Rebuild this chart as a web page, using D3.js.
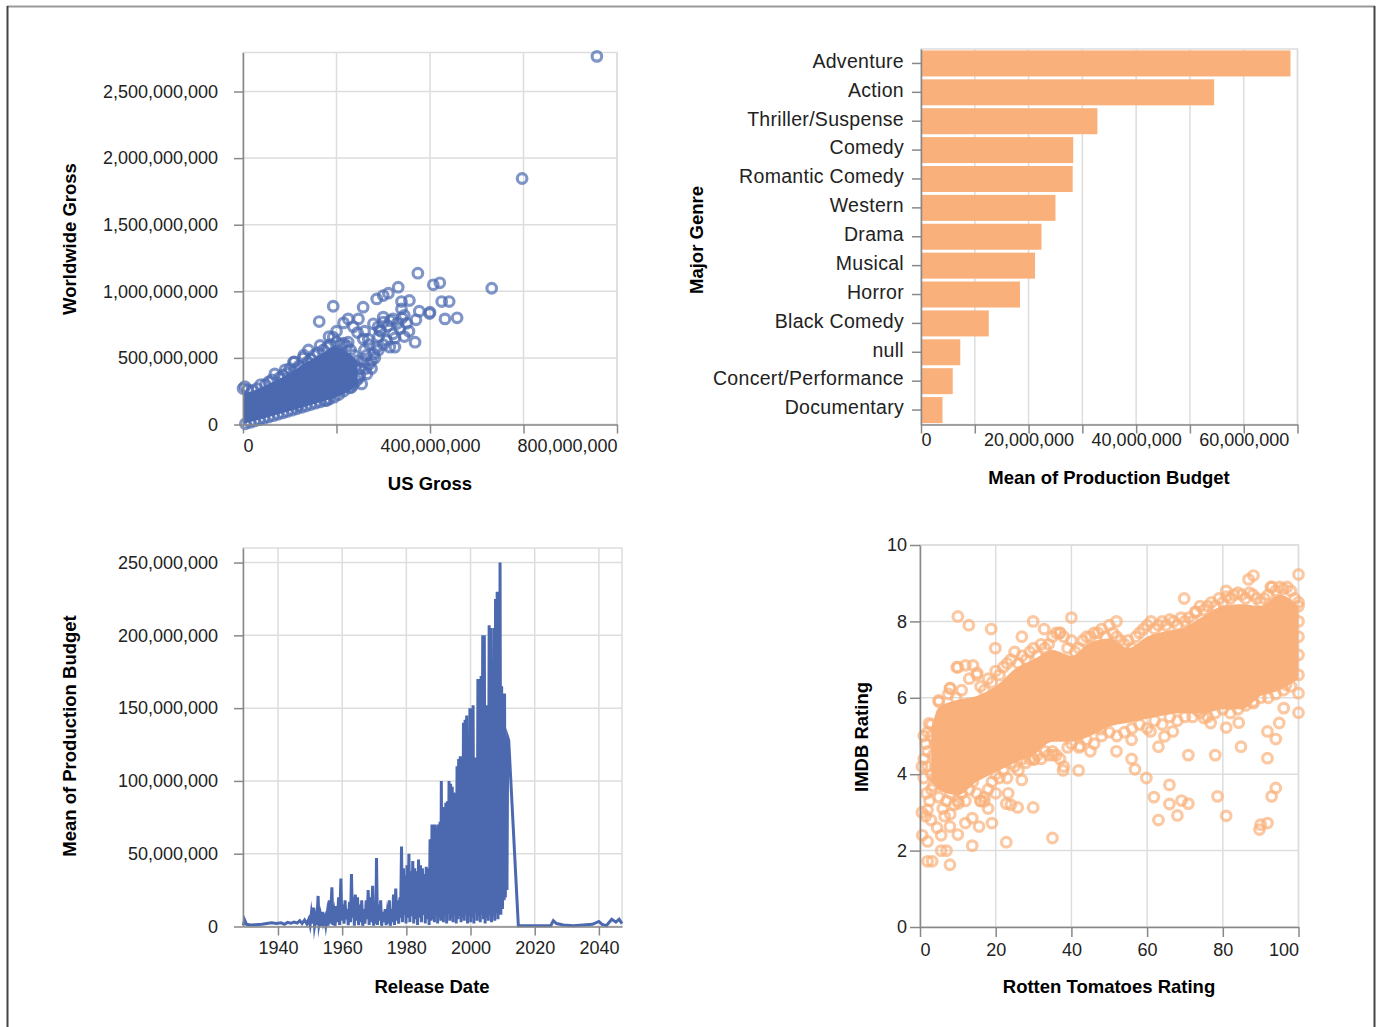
<!DOCTYPE html>
<html>
<head>
<meta charset="utf-8">
<script src="https://cdn.jsdelivr.net/npm/d3@7"></script>
<style>
  body { margin: 0; background: #fff; }
  text { font-family: "Liberation Sans", Arial, sans-serif; }
</style>
</head>
<body>
<svg id="dash" width="1377" height="1027"></svg>
<script>
// ---- data (gross / budget values in millions) ----

// dense core of the US vs worldwide cloud: [usGross, worldLow, worldHigh]
const grossCore = [[0,5,235],[15,18,245],[40,42,280],[70,72,330],[100,102,385],[125,127,445],
  [150,152,495],[175,178,545],[195,200,585],[215,228,560],[235,270,510],[245,300,470]]
// individual films: [usGross, worldwideGross]
const grossPoints = [
  [5,5],[15,16],[25,26],[35,36],[45,46],[55,57],[65,66],[75,77],[85,87],[95,97],[105,108],[115,118],
  [125,128],[135,139],[145,150],[155,160],[165,170],[175,180],[185,192],[195,205],[205,225],[215,250],[228,275],[236,300],
  [0,270],[4,285],[10,262],[20,255],[30,270],[38,300],[48,300],[55,320],[62,335],[68,380],[78,350],[85,370],[95,385],
  [108,468],[115,420],[120,440],[129,500],[138,470],[145,490],[152,520],[160,540],[165,593],[172,560],[180,580],[186,600],
  [193,655],[200,620],[210,600],[215,610],[222,590],[230,560],[238,520],[245,480],
  [250,368],[254,305],[232,280],[243,330],[204,293],[186,230],[179,180],[118,143],[257,643],[225,618],[264,518],[275,480],
  [280,531],[286,581],[307,631],[314,581],[325,581],[321,681],[293,708],[289,733],[279,756],[300,768],[315,780],[321,793],
  [300,806],[247,793],[225,793],[236,735],[215,763],[163,773],[193,888],[257,881],[286,943],[300,968],[311,986],[332,1031],
  [339,923],[339,868],[356,931],[368,618],[370,786],[377,851],[399,833],[400,843],[425,923],[441,923],[432,793],[458,801],
  [374,1136],[407,1049],[421,1064],[532,1023],[597,1847],[757,2764],
  [268,640],[290,660],[260,700],[245,690],[200,700],[184,660],[140,560],[130,520],[110,470],[100,420],[90,410],[260,560],
  [270,600],[295,700],[310,740],[330,760],[340,800],[345,820],[350,760],[355,700],[335,720],[325,650],[345,660],
  [262,420],[270,455],[258,470],[250,420],[240,440],[265,380],[248,350],[275,420],[282,500],[290,560],[300,600]
]
const grossXTicks = [0,200,400,600,800]
const grossXLabels = [0,400,800]
const grossYTicks = [0,500,1000,1500,2000,2500]

// mean production budget by major genre
const genres = ["Adventure","Action","Thriller/Suspense","Comedy","Romantic Comedy","Western","Drama",
  "Musical","Horror","Black Comedy","null","Concert/Performance","Documentary"]
const genreBudgets = [68.7,54.5,32.8,28.3,28.2,25.0,22.4,21.2,18.4,12.6,7.3,5.9,4.0]
const genreTicks = [0,10,20,30,40,50,60,70]
const genreLabels = [0,20,40,60]

// mean production budget by release date: [decimal year, budget]
const budgetByDate = [
  [1929.2,1],[1929.6,4.5],[1930.2,1.5],[1931.5,1],[1933,1.2],[1935,1.5],[1936.5,2],[1938,2.5],[1939.5,2],[1941,2.5],
  [1942,1.5],[1943,2.8],[1944,2.2],[1945,3],[1946,2.4],[1946.8,4],[1947.5,2],[1948.3,4.5],[1949,1.8],[1949.6,5],
  [1950.0,1],[1950.4,9],[1950.8,2],[1951.1,13],[1951.4,0.5],[1951.8,6],[1952.1,1],[1952.5,21],[1952.8,2],[1953.2,7],
  [1953.5,0.5],[1953.9,10],[1954.2,3],[1954.6,6],[1954.9,1],[1955.3,8],[1955.6,0.5],[1956.0,18],[1956.3,2],[1956.8,27],
  [1957.1,1],[1957.5,8],[1957.8,0.5],[1958.2,14],[1958.5,3],[1958.9,20],[1959.2,1],[1959.6,33],[1959.9,4],[1960.3,15],
  [1960.6,2],[1960.9,18],[1961.2,5],[1961.6,12],[1961.9,1],[1962.3,17],[1962.6,3],[1962.9,36],[1963.2,6],[1963.5,20],
  [1963.8,0.5],[1964.1,22],[1964.4,4],[1964.8,20],[1965.1,1],[1965.5,15],[1965.8,3],[1966.1,18],[1966.4,0.5],[1966.8,12],
  [1967.1,2],[1967.5,18],[1967.8,5],[1968.1,25],[1968.4,1],[1968.8,20],[1969.1,3],[1969.5,28],[1969.8,0.5],[1970.2,16],
  [1970.5,2],[1970.7,47],[1971.0,1],[1971.3,15],[1971.6,4],[1972.0,18],[1972.3,0.5],[1972.7,10],[1973.0,3],[1973.4,12],
  [1973.7,1],[1974.0,8],[1974.3,2],[1974.7,18],[1975.0,0.5],[1975.4,12],[1975.7,3],[1976.0,22],[1976.3,1],[1976.7,26],
  [1977.0,4],[1977.3,18],[1977.6,2],[1978.0,20],[1978.2,6],[1978.5,55],[1978.8,3],[1979.1,40],[1979.3,8],[1979.6,35],
  [1979.9,2],[1980.2,42],[1980.5,6],[1980.8,50],[1981.1,3],[1981.4,38],[1981.7,7],[1982.0,45],[1982.3,2],[1982.6,40],
  [1982.9,5],[1983.2,38],[1983.5,1],[1983.8,46],[1984.1,6],[1984.4,42],[1984.7,3],[1985.0,40],[1985.3,8],[1985.6,36],
  [1985.9,2],[1986.2,41],[1986.5,5],[1986.8,40],[1987.1,1],[1987.4,60],[1987.7,4],
  [1988.0,70],[1988.25,5],[1988.5,70],[1988.75,3],[1989.0,70],[1989.25,8],[1989.5,68],[1989.75,2],[1990.0,70],[1990.25,6],
  [1990.5,72],[1990.75,4],[1990.9,100],[1991.1,10],[1991.3,80],[1991.55,3],[1991.8,82],[1992.05,7],[1992.3,85],[1992.55,2],
  [1992.8,86],[1993.05,9],[1993.3,100],[1993.55,4],[1993.8,98],[1994.05,6],[1994.3,96],[1994.55,3],[1994.8,92],[1995.05,8],
  [1995.3,90],[1995.55,2],[1995.8,110],[1996.05,5],[1996.3,115],[1996.55,7],[1996.8,117],[1997.05,3],[1997.3,116],[1997.55,6],
  [1997.8,140],[1998.05,4],[1998.3,142],[1998.55,8],[1998.8,145],[1999.05,2],[1999.3,115],[1999.55,7],[1999.8,150],[2000.05,3],
  [2000.3,150],[2000.55,6],[2000.8,152],[2001.05,2],[2001.3,115],[2001.55,9],[2001.8,116],[2002.05,4],[2002.3,170],[2002.55,7],
  [2002.8,170],[2003.05,3],[2003.3,172],[2003.55,8],[2003.8,200],[2004.05,5],[2004.3,200],[2004.55,2],[2004.8,150],[2005.05,6],
  [2005.3,152],[2005.55,4],[2005.8,207],[2006.05,8],[2006.3,205],[2006.55,3],[2006.8,152],[2007.05,7],[2007.3,205],[2007.55,4],
  [2007.8,225],[2008.05,9],[2008.3,230],[2008.55,5],[2008.8,230],[2009.0,10],[2009.2,250],[2009.45,8],[2009.7,165],[2009.95,12],
  [2010.2,160],[2010.45,18],[2010.6,160],[2010.85,20],[2011.1,130],[2011.35,25],[2011.6,130],[2011.9,128],
  [2014.9,0.5],[2020,0.5],[2025,0.5],[2025.8,4],[2026.8,2],[2029,1],[2032,0.5],[2035,1],[2038,1.5],[2040,3.5],
  [2041,1.5],[2042.3,0.5],[2044,5],[2045.3,3],[2046.3,5],[2047.2,2]
]
const yearTicks = [1940,1960,1980,2000,2020,2040]
const budgetTicks = [0,50,100,150,200,250]

// dense core of the ratings cloud: [rottenTomatoes, imdbLow, imdbHigh]
const ratingCore = [[3,3.8,5.2],[5,3.6,5.75],[10,3.45,5.95],[15,3.8,6.05],[20,4.05,6.3],[25,4.3,6.75],[30,4.5,7.0],
  [35,4.85,7.25],[40,4.85,7.1],[45,5.0,7.45],[50,5.25,7.55],[55,5.35,7.3],[60,5.45,7.6],[65,5.55,7.75],[70,5.6,7.85],
  [75,5.6,8.15],[80,5.7,8.4],[85,5.7,8.45],[90,6.05,8.4],[95,6.2,8.7],[100,6.5,8.4]]
// individual films: [rottenTomatoes, imdb]
const ratingPoints = [
  [3,5.3],[5,5.9],[6,5.6],[7.5,6.1],[8,6.25],[9.5,6.0],[10,6.8],[11,6.2],[12,6.85],[13,6.5],[14,6.85],[15,6.6],[16,6.3],
  [17,6.2],[18,6.5],[19,6.4],[20,6.7],[21,6.6],[22,6.8],[23,6.9],[24,7.0],[25,7.2],[26,6.9],[27,7.1],[28,7.0],[29,7.2],
  [30,7.3],[31,7.1],[32,7.4],[33,7.3],[34,7.4],[35,7.6],[36,7.7],[37,7.7],[38,7.6],[39,7.3],[40,7.5],[41,7.2],[42,7.3],
  [43,7.5],[44,7.6],[45,7.6],[46,7.7],[47,7.7],[48,7.8],[49,7.6],[50,7.9],[51,7.7],[52,7.6],[53,7.5],[54,7.4],[55,7.5],
  [56,7.3],[57,7.6],[58,7.7],[59,7.8],[60,7.9],[61,8.0],[62,7.8],[63,7.9],[64,8.0],[65,7.9],[66,8.05],[67,8.0],[68,7.9],
  [69,8.1],[70,8.0],[71,8.1],[72,8.0],[73,8.25],[74,8.4],[75,8.3],[76,8.4],[77,8.5],[78,8.4],[79,8.6],[80,8.5],[81,8.65],
  [82,8.6],[83,8.7],[84,8.75],[85,8.7],[86,8.6],[87,8.75],[88,8.7],[89,8.6],[90,8.5],[91,8.6],[92,8.7],[93,8.9],[94,8.8],
  [95,8.9],[96,8.85],[97,8.9],[98,8.8],[99,8.6],[100,8.4],
  [3,3.6],[4,4.2],[5,3.4],[6,3.7],[7,3.3],[8,3.5],[9,3.2],[10,3.3],[11,3.5],[12,3.3],[13,3.6],[14,3.8],[15,3.5],[16,3.3],
  [17,3.4],[18,3.6],[19,3.8],[20,4.0],[21,3.9],[22,4.1],[23,3.9],[24,4.3],[25,4.2],[26,4.1],[27,4.4],[28,4.3],[29,4.4],
  [30,4.4],[31,4.5],[32,4.4],[33,4.6],[34,4.5],[35,4.6],[36,4.5],[37,4.4],[38,4.2],[39,4.7],[40,4.8],[42,4.7],[44,4.9],
  [46,4.8],[48,5.0],[50,5.1],[52,5.0],[54,5.1],[56,5.2],[58,5.3],[60,5.2],[62,5.4],[64,5.3],[66,5.5],[68,5.4],[70,5.5],
  [72,5.5],[74,5.6],[76,5.5],[78,5.6],[80,5.7],[82,5.6],[84,5.7],[86,5.8],[88,5.9],[90,6.0],[92,6.0],[94,6.1],[96,6.2],
  [98,6.3],[100,6.6],
  [10,8.13],[12.9,7.9],[18.8,7.8],[19.9,7.3],[26.9,7.6],[29.9,8.0],[32.8,7.8],[36.9,7.7],[40,8.1],[51.9,8.0],[69.8,8.6],
  [72.7,8.25],[80.9,8.8],[86.8,9.1],[88.1,9.2],[100,9.23],[92.7,8.9],
  [9.7,6.8],[15.1,6.65],[2.4,5.33],[4.9,5.93],[7.9,6.25],[1.5,4.8],[2.0,4.2],[1.7,3.5],[2.0,3.07],[2.9,2.8],[0.6,2.4],
  [2.0,2.24],[2.0,1.72],[3.2,1.72],[5.6,2.0],[7.0,2.0],[7.9,1.63],[7.9,2.63],[5.6,2.4],[10,2.42],[12,2.72],[13.8,2.85],
  [13.8,2.13],[15.6,2.63],[19,2.72],[22.8,2.22],[35,2.33],[22.8,3.23],[25.8,3.13],[29.9,3.13],[23.3,3.5],[17,3.29],
  [10.2,3.24],[26.9,3.85],[30.1,4.38],[35.1,4.5],[37.8,4.1],[41.9,4.1],[45,4.6],[51.9,4.6],[55.9,4.9],[55.9,4.4],
  [56.8,4.13],[59.8,3.9],[61.8,3.4],[63,2.8],[65.9,3.72],[65.9,3.22],[68,2.92],[69.1,3.31],[70.9,3.23],[70.9,4.5],
  [63,4.72],[64.6,4.99],[66.8,5.12],[60.9,5.12],[78,4.5],[78.6,3.42],[80.9,2.91],[84.8,4.72],[80.9,5.22],[89.7,2.55],
  [90,2.68],[91.8,2.72],[91.8,4.42],[92.9,3.42],[94,3.64],[94,4.92],[91.8,5.12],[94.9,5.34],[96.1,5.73],[100,5.61],
  [100,6.12],[100,7.12],[96.7,6.34],[84.2,5.35],[73.2,5.68],[75,5.47],[76.8,5.34],[88.1,5.86],[47.8,5.18],[42.3,4.74],
  [3.5,4.5],[4,3.9],[6,3.1],[8,2.95],[1,3.9],[0.5,4.2],[3,5.0],[5,4.4],[4.5,2.6],[6.5,2.9],[18,3.1],[20,3.5],[24,3.2],
  [16,3.3],[100,7.6],[100,8.0],[100,8.5],[98,7.9],[97,8.2],[1,5.0],[2,4.6],[3,4.0],[1,4.4],[2.5,3.3],[0.5,3.0],[1.5,2.9],
  [3.5,3.7],[4,4.8],[2,5.1]
]
const rtTicks = [0,20,40,60,80,100]
const imdbTicks = [0,2,4,6,8,10]

// ---- drawing ----
const blue = "#4c69b0"
const orange = "#f9b07b"
const big = d3.format(",")
const fmtM = v => big(v * 1e6)
const ring = { r: 4.8, width: 3.2, opacity: 0.7 }

const svg = d3.select("#dash")

// page frame
svg.append("line").attr("x1", 7).attr("x2", 1375).attr("y1", 6.5).attr("y2", 6.5).attr("stroke", "#999").attr("stroke-width", 2)
svg.append("line").attr("x1", 7.5).attr("x2", 7.5).attr("y1", 6).attr("y2", 1027).attr("stroke", "#444").attr("stroke-width", 2)
svg.append("line").attr("x1", 1374.5).attr("x2", 1374.5).attr("y1", 6).attr("y2", 1027).attr("stroke", "#444").attr("stroke-width", 2)

// view border + grid lines
function frame(g, x, y, xGrid, yGrid) {
  const [xl, xr] = x.range(), [yb, yt] = y.range()
  const grid = g.append("g")
  grid.append("rect").attr("x", xl).attr("y", yt).attr("width", xr - xl).attr("height", yb - yt)
    .attr("fill", "none").attr("stroke", "#ddd").attr("stroke-width", 1.5)
  if (xGrid) grid.selectAll(".gx").data(xGrid).join("line")
    .attr("x1", d => x(d)).attr("x2", d => x(d)).attr("y1", yt).attr("y2", yb)
    .attr("stroke", "#ddd").attr("stroke-width", 1.5)
  if (yGrid) grid.selectAll(".gy").data(yGrid).join("line")
    .attr("x1", xl).attr("x2", xr).attr("y1", d => y(d)).attr("y2", d => y(d))
    .attr("stroke", "#ddd").attr("stroke-width", 1.5)
}

function styleAxis(sel) {
  sel.select(".domain").attr("stroke", "#888").attr("stroke-width", 1.5)
  sel.selectAll(".tick line").attr("stroke", "#888").attr("stroke-width", 1.5)
  sel.selectAll(".tick text").attr("font-size", 18).attr("fill", "#222")
    .attr("font-family", "'Liberation Sans', Arial, sans-serif")
}

function xTitle(g, label, cx, cy) {
  g.append("text").attr("x", cx).attr("y", cy).attr("dy", "0.35em").attr("text-anchor", "middle")
    .attr("font-size", 18.5).attr("font-weight", "bold").attr("fill", "#000").text(label)
}
function yTitle(g, label, cx, cy) {
  g.append("text").attr("transform", `translate(${cx},${cy}) rotate(-90)`).attr("dy", "0.35em")
    .attr("text-anchor", "middle").attr("font-size", 18.5).attr("font-weight", "bold").attr("fill", "#000").text(label)
}

// flush first / last x labels to the plot edges
function flushX(sel, first, last) {
  const t = sel.selectAll(".tick text")
  const n = t.size()
  t.attr("text-anchor", (d, i) => (first && i === 0) ? "start" : (last && i === n - 1) ? "end" : "middle")
}

function rings(g, data, x, y, color) {
  g.selectAll("circle").data(data).join("circle")
    .attr("cx", d => x(d[0])).attr("cy", d => y(d[1])).attr("r", ring.r)
    .attr("fill", "none").attr("stroke", color).attr("stroke-width", ring.width).attr("stroke-opacity", ring.opacity)
}

// ---------- 1. US vs worldwide gross ----------
{
  const g = svg.append("g")
  const x = d3.scaleLinear().domain([0, 800]).range([243, 617])
  const y = d3.scaleLinear().domain([0, 2793]).range([424.5, 52.5])
  frame(g, x, y, grossXTicks, grossYTicks)

  const marks = g.append("g")
  marks.append("path").datum(grossCore)
    .attr("d", d3.area().x(d => x(d[0])).y0(d => y(d[1])).y1(d => y(d[2])).curve(d3.curveMonotoneX))
    .attr("fill", blue)
  rings(marks, grossPoints, x, y, blue)

  g.append("g").attr("transform", "translate(0,424.5)")
    .call(d3.axisBottom(x).tickValues(grossXTicks).tickSize(9).tickSizeOuter(0).tickPadding(6)
      .tickFormat(d => grossXLabels.includes(d) ? fmtM(d) : ""))
    .call(styleAxis).call(s => flushX(s, true, true))
  g.append("g").attr("transform", "translate(243,0)")
    .call(d3.axisLeft(y).tickValues(grossYTicks).tickSize(9).tickSizeOuter(0).tickPadding(16).tickFormat(fmtM))
    .call(styleAxis)

  xTitle(g, "US Gross", 430, 484)
  yTitle(g, "Worldwide Gross", 70, 239)
}

// ---------- 2. mean budget by genre ----------
{
  const g = svg.append("g")
  const x = d3.scaleLinear().domain([0, 70]).range([921, 1297.5])
  const y = d3.scaleBand().domain(genres).range([49, 424.5]).paddingInner(0.1).paddingOuter(0.05)
  const yl = d3.scaleLinear().range([424.5, 49])
  frame(g, x, yl, genreTicks, null)

  g.append("g").selectAll("rect").data(genres).join("rect")
    .attr("x", x(0)).attr("y", d => y(d))
    .attr("width", (d, i) => x(genreBudgets[i]) - x(0)).attr("height", y.bandwidth())
    .attr("fill", orange)

  g.append("g").attr("transform", "translate(0,424.5)")
    .call(d3.axisBottom(x).tickValues(genreTicks).tickSize(9).tickSizeOuter(0).tickPadding(0)
      .tickFormat(d => genreLabels.includes(d) ? fmtM(d) : ""))
    .call(styleAxis).call(s => flushX(s, true, false))
  g.append("g").attr("transform", "translate(921,0)")
    .call(d3.axisLeft(y).tickSize(9).tickSizeOuter(0).tickPadding(8))
    .call(styleAxis)
    .call(s => s.selectAll(".tick text").attr("dy", "0.22em").attr("font-size", 19.5).attr("letter-spacing", 0.3))

  xTitle(g, "Mean of Production Budget", 1109, 478)
  yTitle(g, "Major Genre", 697, 240)
}

// ---------- 3. mean budget over release date ----------
{
  const toDate = yr => {
    const y0 = Math.floor(yr)
    const start = Date.UTC(y0, 0, 1), end = Date.UTC(y0 + 1, 0, 1)
    return new Date(start + (yr - y0) * (end - start))
  }
  const g = svg.append("g")
  const x = d3.scaleUtc().domain([toDate(1929.1), toDate(2047.2)]).range([243, 622])
  const y = d3.scaleLinear().domain([0, 260]).range([926.5, 548])
  const tickDates = yearTicks.map(yr => toDate(yr))
  frame(g, x, y, tickDates, budgetTicks)

  g.append("path").datum(budgetByDate)
    .attr("d", d3.line().x(d => x(toDate(d[0]))).y(d => y(d[1])))
    .attr("fill", "none").attr("stroke", blue).attr("stroke-width", 3)
    .attr("stroke-linejoin", "miter").attr("stroke-miterlimit", 10)

  g.append("g").attr("transform", "translate(0,926.5)")
    .call(d3.axisBottom(x).tickValues(tickDates).tickSize(9).tickSizeOuter(0).tickPadding(6)
      .tickFormat(d3.utcFormat("%Y")))
    .call(styleAxis)
  g.append("g").attr("transform", "translate(243,0)")
    .call(d3.axisLeft(y).tickValues(budgetTicks).tickSize(9).tickSizeOuter(0).tickPadding(16).tickFormat(fmtM))
    .call(styleAxis)

  xTitle(g, "Release Date", 432, 987)
  yTitle(g, "Mean of Production Budget", 70, 736)
}

// ---------- 4. IMDB vs Rotten Tomatoes ----------
{
  const g = svg.append("g")
  const x = d3.scaleLinear().domain([0, 100]).range([920, 1298.5])
  const y = d3.scaleLinear().domain([0, 10]).range([927, 545])
  frame(g, x, y, rtTicks, imdbTicks)

  const marks = g.append("g")
  marks.append("path").datum(ratingCore)
    .attr("d", d3.area().x(d => x(d[0])).y0(d => y(d[1])).y1(d => y(d[2])).curve(d3.curveMonotoneX))
    .attr("fill", orange)
  rings(marks, ratingPoints, x, y, orange)

  g.append("g").attr("transform", "translate(0,927)")
    .call(d3.axisBottom(x).tickValues(rtTicks).tickSize(10).tickSizeOuter(0).tickPadding(6))
    .call(styleAxis).call(s => flushX(s, true, true))
  g.append("g").attr("transform", "translate(920,0)")
    .call(d3.axisLeft(y).tickValues(imdbTicks).tickSize(10).tickSizeOuter(0).tickPadding(3))
    .call(styleAxis)

  xTitle(g, "Rotten Tomatoes Rating", 1109, 987)
  yTitle(g, "IMDB Rating", 862, 737)
}
</script>
</body>
</html>
